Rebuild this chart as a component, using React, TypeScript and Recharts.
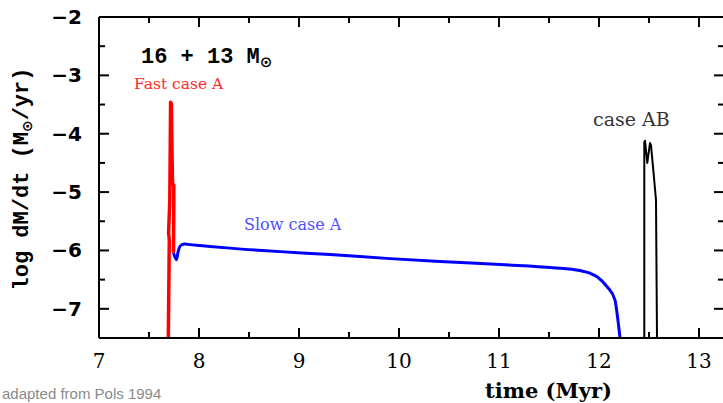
import { Line, LineChart, XAxis, YAxis } from 'recharts';

// log mass transfer rate (Msun/yr) vs time (Myr) for a 16 + 13 Msun binary
const fastTime = [7.693, 7.703, 7.696, 7.708, 7.716, 7.724, 7.73, 7.735, 7.748, 7.748, 7.745];
const fastRate = [-7.5, -5.82, -5.7, -5.14, -3.46, -3.49, -4.28, -4.86, -4.88, -5.2, -6.04];

const slowTime = [
  7.745, 7.775, 7.79, 7.82, 7.86, 7.91, 8.01, 8.31, 8.81, 9.31, 9.91, 10.41, 11.06, 11.54, 11.81,
  11.91, 11.98, 12.08, 12.16, 12.18, 12.21,
];
const slowRate = [
  -6.04, -6.16, -6.03, -5.91, -5.89, -5.9, -5.915, -5.96, -6.02, -6.07, -6.14, -6.19, -6.245,
  -6.295, -6.345, -6.39, -6.45, -6.62, -6.85, -7.07, -7.5,
];

const abTime = [12.453, 12.453, 12.46, 12.483, 12.51, 12.52, 12.543, 12.57, 12.58];
const abRate = [-7.5, -4.14, -4.12, -4.5, -4.16, -4.2, -4.62, -5.14, -7.5];

const xTicks = [7, 7.5, 8, 8.5, 9, 9.5, 10, 10.5, 11, 11.5, 12, 12.5, 13];
const yTicks = [-7.5, -7, -6.5, -6, -5.5, -5, -4.5, -4, -3.5, -3, -2.5, -2];

const toPoints = (t: number[], v: number[]) => t.map((time, i) => ({ t: time, v: v[i] }));

const fastData = toPoints(fastTime, fastRate);
const slowData = toPoints(slowTime, slowRate);
const abData = toPoints(abTime, abRate);

const X_DOMAIN: [number, number] = [7, 13.25];
const Y_DOMAIN: [number, number] = [-7.5, -2];
const MAJOR = 10;
const MINOR = 6;

const tickLen = (v: number) => (Number.isInteger(v) ? MAJOR : MINOR);
const fmt = (v: number) => String(v).replace('-', '\u2212');

// Ticks point into the plot box; labels only on integer values
const BottomTick = ({ x, y, payload }: any) => (
  <g>
    <line x1={x} x2={x} y1={y} y2={y - tickLen(payload.value)} stroke="#000" strokeWidth={2} />
    {Number.isInteger(payload.value) && (
      <text x={x} y={y + 30} textAnchor="middle" fontFamily="DejaVu Serif" fontSize={20} fill="#000">
        {payload.value}
      </text>
    )}
  </g>
);

const TopTick = ({ x, y, payload }: any) => (
  <line x1={x} x2={x} y1={y} y2={y + tickLen(payload.value)} stroke="#000" strokeWidth={2} />
);

const LeftTick = ({ x, y, payload }: any) => (
  <g>
    <line x1={x} x2={x + tickLen(payload.value)} y1={y} y2={y} stroke="#000" strokeWidth={2} />
    {Number.isInteger(payload.value) && (
      <text
        x={x - 17}
        y={y + 7}
        textAnchor="end"
        fontFamily="DejaVu Sans"
        fontWeight="bold"
        fontSize={20}
        fill="#000"
      >
        {fmt(payload.value)}
      </text>
    )}
  </g>
);

const RightTick = ({ x, y, payload }: any) => (
  <line x1={x} x2={x - tickLen(payload.value)} y1={y} y2={y} stroke="#000" strokeWidth={2} />
);

const axisLine = { stroke: '#000', strokeWidth: 2 };

export default function App() {
  return (
    <div
      style={{
        position: 'absolute',
        left: 0,
        top: 0,
        width: 723,
        height: 403,
        overflow: 'hidden',
        background: '#fff',
      }}
    >
      <LineChart width={730} height={403} margin={{ top: 16, right: 5, bottom: 0, left: 0 }}>
        <XAxis
          xAxisId="bottom"
          dataKey="t"
          type="number"
          domain={X_DOMAIN}
          allowDataOverflow
          ticks={xTicks}
          interval={0}
          height={65}
          tickSize={0}
          tickMargin={0}
          tickLine={false}
          axisLine={axisLine}
          tick={(p: any) => <BottomTick {...p} />}
        />
        <XAxis
          xAxisId="top"
          orientation="top"
          dataKey="t"
          type="number"
          domain={X_DOMAIN}
          allowDataOverflow
          ticks={xTicks}
          interval={0}
          height={1}
          tickSize={0}
          tickMargin={0}
          tickLine={false}
          axisLine={axisLine}
          tick={(p: any) => <TopTick {...p} />}
        />
        <YAxis
          yAxisId="left"
          type="number"
          domain={Y_DOMAIN}
          allowDataOverflow
          ticks={yTicks}
          interval={0}
          width={99}
          tickSize={0}
          tickMargin={0}
          tickLine={false}
          axisLine={axisLine}
          tick={(p: any) => <LeftTick {...p} />}
        />
        <YAxis
          yAxisId="right"
          orientation="right"
          type="number"
          domain={Y_DOMAIN}
          allowDataOverflow
          ticks={yTicks}
          interval={0}
          width={1}
          tickSize={0}
          tickMargin={0}
          tickLine={false}
          axisLine={axisLine}
          tick={(p: any) => <RightTick {...p} />}
        />
        <Line
          xAxisId="bottom"
          yAxisId="left"
          data={slowData}
          dataKey="v"
          type="monotone"
          stroke="#0000ff"
          strokeWidth={3}
          strokeLinejoin="round"
          dot={false}
          isAnimationActive={false}
        />
        <Line
          xAxisId="bottom"
          yAxisId="left"
          data={fastData}
          dataKey="v"
          type="linear"
          stroke="#ff0000"
          strokeWidth={3.5}
          strokeLinejoin="round"
          dot={false}
          isAnimationActive={false}
        />
        <Line
          xAxisId="bottom"
          yAxisId="left"
          data={abData}
          dataKey="v"
          type="linear"
          stroke="#000"
          strokeWidth={2}
          strokeLinejoin="round"
          dot={false}
          isAnimationActive={false}
        />
      </LineChart>
      <svg
        width={723}
        height={403}
        style={{ position: 'absolute', left: 0, top: 0, pointerEvents: 'none' }}
      >
        <text x={141} y={63} fontFamily="Liberation Mono" fontWeight="bold" fontSize={22} fill="#000">
          16 + 13 M
          <tspan fontFamily="DejaVu Sans" fontSize={15} dy={4}>
            {'\u2299'}
          </tspan>
        </text>
        <text x={134} y={89} fontFamily="DejaVu Serif" fontSize={15.5} fill="#ff2a2a">
          Fast case A
        </text>
        <text x={244} y={230} fontFamily="DejaVu Serif" fontSize={16} fill="#4f4fff">
          Slow case A
        </text>
        <text x={593} y={126} fontFamily="DejaVu Serif" fontSize={19} fill="#333">
          case AB
        </text>
        <text
          x={28}
          y={179}
          transform="rotate(-90 28 179)"
          textAnchor="middle"
          fontFamily="Liberation Mono"
          fontWeight="bold"
          fontSize={22}
          fill="#000"
        >
          log dM/dt (M
          <tspan fontFamily="DejaVu Sans" fontSize={14} dy={4}>
            {'\u2299'}
          </tspan>
          <tspan dy={-4}>/yr)</tspan>
        </text>
        <text x={485} y={398} fontFamily="DejaVu Serif" fontWeight="bold" fontSize={21} fill="#000">
          time (Myr)
        </text>
        <text x={2} y={399} fontFamily="Liberation Sans" fontSize={15} fill="#8a8a8a">
          adapted from Pols 1994
        </text>
      </svg>
    </div>
  );
}
